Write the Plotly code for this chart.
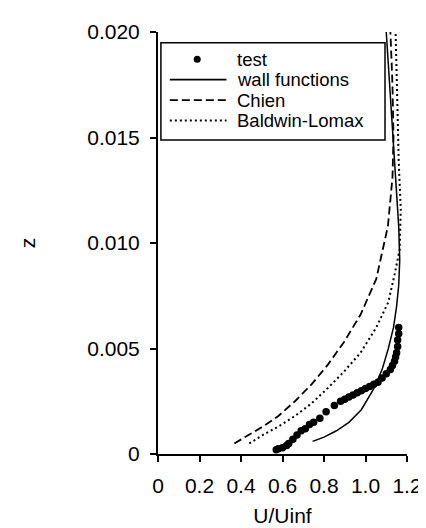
import plotly.graph_objects as go

# measured profile (test)
test_u = [0.57, 0.58, 0.60, 0.62, 0.63, 0.65, 0.67, 0.69, 0.71, 0.73, 0.75, 0.78, 0.81, 0.85,
          0.88, 0.90, 0.92, 0.94, 0.96, 0.98, 1.00, 1.02, 1.04, 1.06, 1.08, 1.10, 1.12, 1.13,
          1.14, 1.145, 1.15, 1.155, 1.155, 1.16, 1.16]
test_z = [0.0002, 0.00025, 0.0003, 0.0004, 0.0005, 0.0007, 0.0009, 0.0011, 0.0012, 0.0014,
          0.0015, 0.0017, 0.0020, 0.0023, 0.0025, 0.0026, 0.0027, 0.0028, 0.0029, 0.0030,
          0.0031, 0.0032, 0.0033, 0.0034, 0.0036, 0.0038, 0.0040, 0.0042, 0.0044, 0.0046,
          0.0048, 0.0051, 0.0054, 0.0057, 0.0060]

# wall functions
wall_u = [0.745, 0.80, 0.86, 0.92, 0.98, 1.04, 1.08, 1.11, 1.135, 1.15, 1.16, 1.165, 1.16,
          1.15, 1.14, 1.13, 1.12, 1.11, 1.10]
wall_z = [0.0006, 0.0008, 0.0011, 0.0015, 0.0021, 0.0031, 0.0040, 0.0050, 0.0060, 0.0070,
          0.0080, 0.0092, 0.0108, 0.0123, 0.0139, 0.0155, 0.0170, 0.0185, 0.0200]

# Chien
chien_u = [0.368, 0.425, 0.505, 0.58, 0.66, 0.74, 0.816, 0.896, 0.976, 1.052, 1.108, 1.13,
           1.135, 1.13, 1.12]
chien_z = [0.0005, 0.00083, 0.0013, 0.0018, 0.0025, 0.0033, 0.0042, 0.0053, 0.0066, 0.0083,
           0.0108, 0.0131, 0.0150, 0.0175, 0.0200]

# Baldwin-Lomax
bl_u = [0.44, 0.505, 0.58, 0.66, 0.74, 0.816, 0.896, 0.976, 1.052, 1.11, 1.14, 1.165, 1.17,
        1.16, 1.155, 1.15, 1.145]
bl_z = [0.0005, 0.0009, 0.0013, 0.0018, 0.0024, 0.0031, 0.0039, 0.0048, 0.0060, 0.0072,
        0.0085, 0.0097, 0.0116, 0.0139, 0.0160, 0.0180, 0.0200]

x_ticks = [0, 0.2, 0.4, 0.6, 0.8, 1.0, 1.2]
x_labels = ["0", "0.2", "0.4", "0.6", "0.8", "1.0", "1.2"]
y_ticks = [0, 0.005, 0.010, 0.015, 0.020]
y_labels = ["0", "0.005", "0.010", "0.015", "0.020"]

legend_names = ["test", "wall functions", "Chien", "Baldwin-Lomax"]
legend_dash = [None, "solid", "8px,4px", "2px,3px"]

FONT = "Liberation Sans, Arial, sans-serif"

fig = go.Figure()
fig.add_trace(go.Scatter(x=wall_u, y=wall_z, mode="lines",
                         line=dict(color="black", width=1.5), name="wall functions"))
fig.add_trace(go.Scatter(x=chien_u, y=chien_z, mode="lines",
                         line=dict(color="black", width=1.8, dash="8px,4px"), name="Chien"))
fig.add_trace(go.Scatter(x=bl_u, y=bl_z, mode="lines",
                         line=dict(color="black", width=2, dash="2px,3px"), name="Baldwin-Lomax"))
fig.add_trace(go.Scatter(x=test_u, y=test_z, mode="markers",
                         marker=dict(color="black", size=7.5), name="test"))

# hand-made legend box (rows are tighter than plotly's own legend allows)
shapes = [dict(type="rect", xref="x", yref="y", x0=0.014, x1=1.094, y0=0.014885, y1=0.019493,
               line=dict(color="black", width=1.5), fillcolor="white", layer="above")]
annotations = []
row_z = [0.018710, 0.017742, 0.016774, 0.015806]
for name, dash, zz in zip(legend_names, legend_dash, row_z):
    if dash is None:
        shapes.append(dict(type="circle", xref="x", yref="y", xsizemode="pixel",
                           ysizemode="pixel", xanchor=0.189, yanchor=zz,
                           x0=-3.5, x1=3.5, y0=-3.5, y1=3.5,
                           fillcolor="black", line=dict(color="black", width=0),
                           layer="above"))
    else:
        shapes.append(dict(type="line", xref="x", yref="y", x0=0.057, x1=0.33, y0=zz, y1=zz,
                           line=dict(color="black", width=1.8, dash=dash), layer="above"))
    annotations.append(dict(x=0.37, y=zz, xref="x", yref="y", text=name, showarrow=False,
                            xanchor="left", yanchor="middle",
                            font=dict(family=FONT, size=18.5, color="black")))

fig.update_layout(
    width=426, height=528,
    margin=dict(l=150, r=22, t=17, b=77),
    plot_bgcolor="white", paper_bgcolor="white",
    showlegend=False,
    font=dict(family=FONT, size=21, color="black"),
    shapes=shapes, annotations=annotations,
)
fig.update_xaxes(range=[0, 1.2], tickvals=x_ticks, ticktext=x_labels,
                 showgrid=False, zeroline=False, showline=True, linecolor="black",
                 linewidth=2, ticks="outside", ticklen=6, tickwidth=2, tickcolor="black",
                 ticklabelstandoff=6,
                 title=dict(text="U/Uinf", standoff=12, font=dict(size=21)))
fig.update_yaxes(range=[0, 0.020], tickvals=y_ticks, ticktext=y_labels,
                 showgrid=False, zeroline=False, showline=True, linecolor="black",
                 linewidth=2, ticks="outside", ticklen=6, tickwidth=2, tickcolor="black",
                 ticklabelstandoff=6,
                 title=dict(text="z", standoff=46, font=dict(size=21)))

fig.write_html("out.html")
